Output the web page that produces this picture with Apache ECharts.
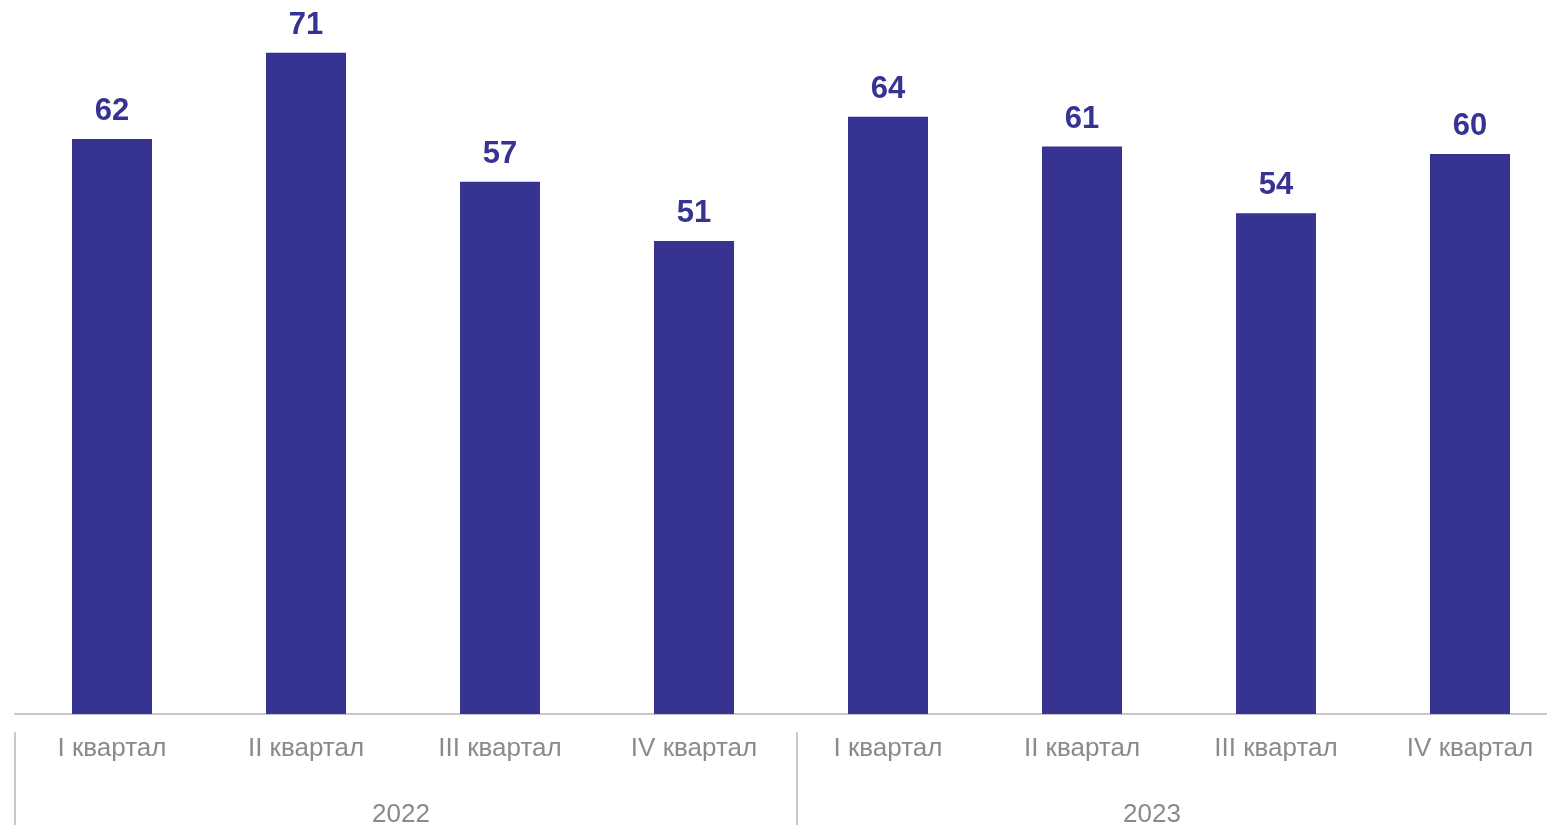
<!DOCTYPE html>
<html>
<head>
<meta charset="utf-8">
<script src="https://cdn.jsdelivr.net/npm/echarts@6/dist/echarts.min.js"></script>
<style>html,body{margin:0;padding:0;background:#fff;overflow:hidden;width:1547px;height:825px}#c{width:1600px;height:825px}</style>
</head>
<body>
<div id="c"></div>
<script>
const quarters = ['I квартал','II квартал','III квартал','IV квартал','I квартал','II квартал','III квартал','IV квартал'];
const values = [62.0, 71.3, 57.4, 51.0, 64.4, 61.2, 54.0, 60.4];
const years = ['2022','2023'];

const chart = echarts.init(document.getElementById('c'));
const blue = '#363393';
const font = 'Liberation Sans, Arial, sans-serif';
chart.setOption({
  animation: false,
  grid: [
    {left: 15, width: 1552, top: 0, height: 714},
    {left: 15, width: 1564, top: 732, height: 1}
  ],
  xAxis: [
    {type: 'category', gridIndex: 0, data: quarters,
     axisLine: {lineStyle: {color: '#c8c8c8', width: 2}},
     axisTick: {show: false},
     axisLabel: {color: '#8a8a8a', fontSize: 26, fontFamily: font, margin: 22, interval: 0}},
    {type: 'category', gridIndex: 1, position: 'bottom',
     data: [{value: years[0], textStyle: {padding: [0, 10, 0, 0]}}, {value: years[1], textStyle: {padding: [0, 72, 0, 0]}}],
     axisLine: {show: false},
     axisTick: {show: true, length: 94, lineStyle: {color: '#c8c8c8', width: 2}},
     axisLabel: {color: '#8a8a8a', fontSize: 26, fontFamily: font, margin: 70, interval: 0}}
  ],
  yAxis: [
    {type: 'value', gridIndex: 0, min: 0, max: 77, show: false},
    {type: 'value', gridIndex: 1, show: false}
  ],
  series: [{
    type: 'bar', data: values, barWidth: 80, itemStyle: {color: blue},
    label: {show: true, position: 'top', distance: 12, color: blue, fontSize: 31, fontWeight: 'bold',
            fontFamily: font, formatter: p => Math.round(p.value)}
  }]
});
</script>
</body>
</html>
